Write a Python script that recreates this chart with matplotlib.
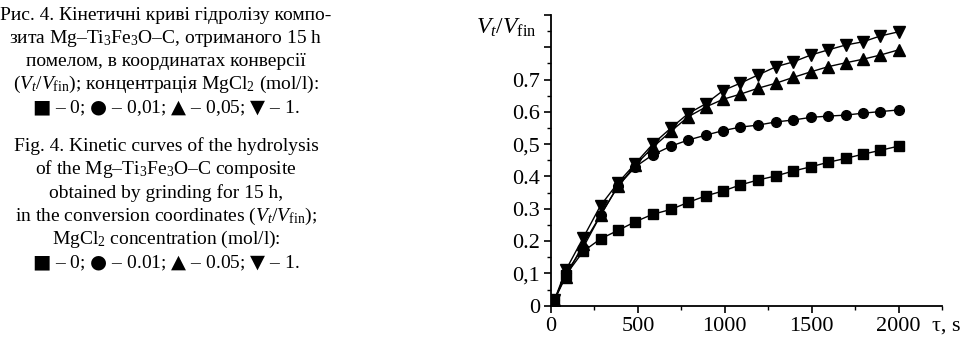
import matplotlib
matplotlib.use("Agg")
import matplotlib.pyplot as plt
from matplotlib.ticker import MultipleLocator, FixedLocator, FixedFormatter

plt.rcParams['font.family'] = ['Liberation Serif', 'DejaVu Serif']
plt.rcParams['mathtext.fontset'] = 'custom'
plt.rcParams['mathtext.rm'] = 'Liberation Serif'
plt.rcParams['mathtext.it'] = 'Liberation Serif:italic'
plt.rcParams['mathtext.bf'] = 'Liberation Serif:bold'
plt.rcParams['mathtext.sf'] = 'DejaVu Sans'

# ---- data ----
t = [20, 85, 185, 285, 385, 485, 585, 690, 790, 890, 990, 1090, 1190, 1295,
     1395, 1495, 1595, 1695, 1795, 1895, 2000]
c0 = [0.018, 0.095, 0.168, 0.207, 0.233, 0.260, 0.283, 0.298, 0.320, 0.340,
      0.355, 0.374, 0.389, 0.402, 0.417, 0.430, 0.444, 0.456, 0.469, 0.481, 0.494]
c001 = [0.018, 0.100, 0.180, 0.280, 0.370, 0.430, 0.467, 0.494, 0.513, 0.528,
        0.542, 0.553, 0.559, 0.569, 0.575, 0.583, 0.587, 0.590, 0.596, 0.601, 0.606]
c005 = [0.018, 0.090, 0.190, 0.280, 0.370, 0.435, 0.490, 0.540, 0.585, 0.615,
        0.639, 0.655, 0.673, 0.689, 0.707, 0.724, 0.740, 0.752, 0.763, 0.776, 0.792]
c1 = [0.018, 0.110, 0.210, 0.310, 0.380, 0.440, 0.500, 0.550, 0.595, 0.625,
      0.666, 0.689, 0.714, 0.740, 0.755, 0.776, 0.792, 0.807, 0.817, 0.835, 0.848]

y_ticks = [0, 0.1, 0.2, 0.3, 0.4, 0.5, 0.6, 0.7, 0.8, 0.9]
y_labels = ["0", "0,1", "0.2", "0.3", "0.4", "0,5", "0.6", "0.7", "", ""]
x_ticks = [0, 500, 1000, 1500, 2000]
x_labels = ["0", "500", "1000", "1500", "2000"]

caption_ua = [
    "Рис. 4. Кінетичні криві гідролізу компо-",
    r"зита Mg–Ti$_3$Fe$_3$O–C, отриманого 15 h",
    "помелом, в координатах конверсії",
    r"($V_t$/$V_{\mathrm{fin}}$); концентрація MgCl$_2$ (mol/l):",
    r"$\mathsf{■}$ – 0; $\mathsf{●}$ – 0,01; $\mathsf{▲}$ – 0,05; $\mathsf{▼}$ – 1.",
]
caption_en = [
    "Fig. 4. Kinetic curves of the hydrolysis",
    r"of the Mg–Ti$_3$Fe$_3$O–C composite",
    "obtained by grinding for 15 h,",
    r"in the conversion coordinates ($V_t$/$V_{\mathrm{fin}}$);",
    r"MgCl$_2$ concentration (mol/l):",
    r"$\mathsf{■}$ – 0; $\mathsf{●}$ – 0.01; $\mathsf{▲}$ – 0.05; $\mathsf{▼}$ – 1.",
]

W, H = 967, 342
fig = plt.figure(figsize=(W / 100, H / 100), dpi=100)
ax = fig.add_axes([551 / W, 1 - 305.7 / H, (942 - 551) / W, (305.7 - 15) / H])

series = [(c0, 's', 6.5), (c001, 'o', 7), (c005, '^', 9), (c1, 'v', 9)]
for vals, mk, ms in series:
    ax.plot(t, vals, color='black', lw=1.0, marker=mk, ms=ms,
            mfc='black', mec='black')

ax.set_xlim(0, 2250)
ax.set_ylim(0, 0.9)
for s in ['top', 'right']:
    ax.spines[s].set_visible(False)
for s in ['left', 'bottom']:
    ax.spines[s].set_linewidth(1.3)

ax.xaxis.set_major_locator(FixedLocator(x_ticks))
ax.xaxis.set_major_formatter(FixedFormatter(x_labels))
ax.xaxis.set_minor_locator(MultipleLocator(250))
ax.yaxis.set_major_locator(FixedLocator(y_ticks))
ax.yaxis.set_major_formatter(FixedFormatter(y_labels))
ax.yaxis.set_minor_locator(MultipleLocator(0.05))
ax.tick_params(which='major', direction='out', length=5, width=1.2,
               labelsize=16, pad=3)
ax.tick_params(which='minor', direction='out', length=3, width=1.0)

fig.text(506 / W, 1 - 28 / H, r"$V_t/V_{\mathrm{fin}}$", fontsize=17,
         ha='center', va='center')
fig.text(946 / W, 1 - 326 / H, "τ, s", fontsize=16, ha='center', va='center')

fs = 14
y0 = 15
for i, line in enumerate(caption_ua):
    fig.text(166 / W, 1 - (y0 + i * 23.2) / H, line, fontsize=fs,
             ha='center', va='center')
y1 = 146
for i, line in enumerate(caption_en):
    fig.text(166 / W, 1 - (y1 + i * 23.4) / H, line, fontsize=fs,
             ha='center', va='center')

fig.savefig("out.png", dpi=100)
